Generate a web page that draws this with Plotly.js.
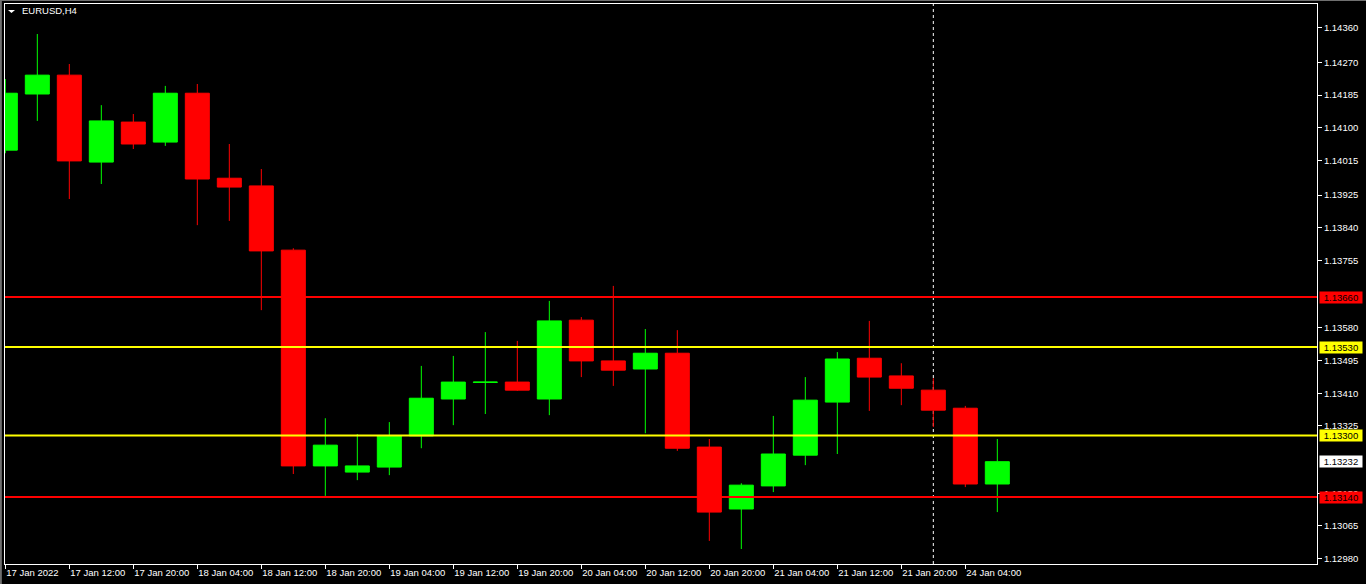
<!DOCTYPE html>
<html>
<head>
<meta charset="utf-8">
<script src="https://cdn.plot.ly/plotly-3.0.1.min.js"></script>
<style>
html,body{margin:0;padding:0;background:#000;}
#chart{width:1366px;height:584px;}
</style>
</head>
<body>
<div id="chart"></div>
<script>
// EURUSD H4 candles (left to right)
const opens  = [1.14042,1.14188,1.14237,1.14011,1.14115,1.14063,1.14190,1.13969,1.13949,1.13782,1.13221,1.13205,1.13218,1.13299,1.13395,1.13438,1.13439,1.13395,1.13600,1.13494,1.13473,1.13514,1.13270,1.13109,1.13169,1.13249,1.13387,1.13501,1.13455,1.13418,1.13371,1.13174];
const highs  = [1.14227,1.14344,1.14266,1.14159,1.14136,1.14209,1.14214,1.14058,1.13993,1.13787,1.13345,1.13304,1.13335,1.13481,1.13507,1.13569,1.13546,1.13650,1.13608,1.13689,1.13577,1.13574,1.13291,1.13176,1.13351,1.13452,1.13517,1.13598,1.13488,1.13449,1.13377,1.13291];
const lows   = [1.14034,1.14118,1.13915,1.13954,1.14045,1.14053,1.13847,1.13858,1.13626,1.13200,1.13143,1.13184,1.13197,1.13267,1.13327,1.13356,1.13416,1.13353,1.13452,1.13429,1.13306,1.13260,1.13026,1.13005,1.13153,1.13223,1.13252,1.13364,1.13379,1.13322,1.13166,1.13101];
const closes = [1.14190,1.14237,1.14014,1.14118,1.14058,1.14190,1.13967,1.13946,1.13780,1.13221,1.13275,1.13221,1.13299,1.13397,1.13439,1.13439,1.13418,1.13598,1.13494,1.13470,1.13514,1.13267,1.13101,1.13171,1.13252,1.13392,1.13499,1.13452,1.13423,1.13366,1.13174,1.13232];

// time axis labels (every second bar)
const timeLabels = ["17 Jan 2022","17 Jan 12:00","17 Jan 20:00","18 Jan 04:00","18 Jan 12:00","18 Jan 20:00","19 Jan 04:00","19 Jan 12:00","19 Jan 20:00","20 Jan 04:00","20 Jan 12:00","20 Jan 20:00","21 Jan 04:00","21 Jan 12:00","21 Jan 20:00","24 Jan 04:00"];

// price scale ticks
const priceTicks = [1.14360,1.14270,1.14185,1.14100,1.14015,1.13925,1.13840,1.13755,1.13580,1.13495,1.13410,1.13325,1.13150,1.13065,1.12980];

// horizontal levels
const levels = [1.13660, 1.13530, 1.13300, 1.13140];
const levelColors = ["#ff0000", "#ffff00", "#ffff00", "#ff0000"];

// week separator bar (24 Jan 00:00)
const separatorBar = 29;

const xIdx = opens.map((_, i) => i);
const tickIdx = timeLabels.map((_, i) => i * 2);
const lastPrice = closes[closes.length - 1];

const FONT = "Liberation Sans, Arial, sans-serif";

const trace = {
  type: "candlestick",
  x: xIdx, open: opens, high: highs, low: lows, close: closes,
  increasing: {line: {color: "#00ff00", width: 1}, fillcolor: "#00ff00"},
  decreasing: {line: {color: "#ff0000", width: 1}, fillcolor: "#ff0000"},
  whiskerwidth: 0,
  hoverinfo: "skip",
  showlegend: false
};

const shapes = [];
shapes.push({type: "line", layer: "below", xref: "x", yref: "paper", x0: separatorBar, x1: separatorBar, y0: 0, y1: 1,
  line: {color: "#ffffff", width: 1, dash: "3px,3px"}});
levels.forEach((v, i) => {
  shapes.push({type: "line", layer: "above", xref: "paper", yref: "y", x0: 0, x1: 1, y0: v, y1: v,
    line: {color: levelColors[i], width: 2}});
});
// title triangle
shapes.push({type: "path", xref: "paper", yref: "paper", layer: "above",
  path: "M 0.00229 0.98929 L 0.00762 0.98929 L 0.00495 0.98393 Z",
  fillcolor: "#ffffff", line: {width: 0}});
// window edges
shapes.push({type: "rect", xref: "paper", yref: "paper", x0: -0.004, x1: 1.04, y0: 1.0055, y1: 1.0075, fillcolor: "#6f6f6f", line: {width: 0}});
shapes.push({type: "rect", xref: "paper", yref: "paper", x0: -0.0039, x1: -0.0024, y0: -0.04, y1: 1.0075, fillcolor: "#6f6f6f", line: {width: 0}});

const annotations = [];
annotations.push({xref: "paper", yref: "paper", x: 0.0114, y: 0.9875, xanchor: "left", yanchor: "middle",
  text: "EURUSD,H4", showarrow: false, font: {family: FONT, size: 9.5, color: "#ffffff"}});
const labelVals = levels.concat([lastPrice]);
const labelBg = levelColors.concat(["#ffffff"]);
labelVals.forEach((v, i) => {
  annotations.push({xref: "paper", yref: "y", x: 1, y: v, xanchor: "left", yanchor: "middle", xshift: 2,
    text: v.toFixed(5), showarrow: false, bgcolor: labelBg[i], width: 41, height: 10, borderpad: 0.5,
    font: {family: FONT, size: 9.5, color: "#000000"}});
});

const layout = {
  width: 1366, height: 584,
  margin: {l: 5, r: 49, t: 4, b: 20, pad: 0},
  paper_bgcolor: "#000000", plot_bgcolor: "#000000",
  showlegend: false,
  boxgap: 0.25,
  boxgroupgap: 0,
  xaxis: {
    type: "linear", range: [-0.01, 40.99], fixedrange: true,
    rangeslider: {visible: false},
    showgrid: false, zeroline: false,
    showline: true, linecolor: "#ffffff", linewidth: 1, mirror: true,
    ticks: "outside", ticklen: 4, tickcolor: "#ffffff", tickwidth: 1,
    tickvals: tickIdx, ticktext: timeLabels,
    ticklabelposition: "outside right",
    tickfont: {family: FONT, size: 9.5, color: "#ffffff"}
  },
  yaxis: {
    side: "right", range: [1.12966, 1.14422], fixedrange: true,
    showgrid: false, zeroline: false,
    showline: true, linecolor: "#ffffff", linewidth: 1, mirror: true,
    ticks: "outside", ticklen: 4, tickcolor: "#ffffff", tickwidth: 1,
    tickvals: priceTicks, ticktext: priceTicks.map(v => v.toFixed(5)),
    tickfont: {family: FONT, size: 9.5, color: "#ffffff"}
  },
  shapes: shapes,
  annotations: annotations
};

Plotly.newPlot("chart", [trace], layout, {displayModeBar: false, staticPlot: true});
</script>
</body>
</html>
